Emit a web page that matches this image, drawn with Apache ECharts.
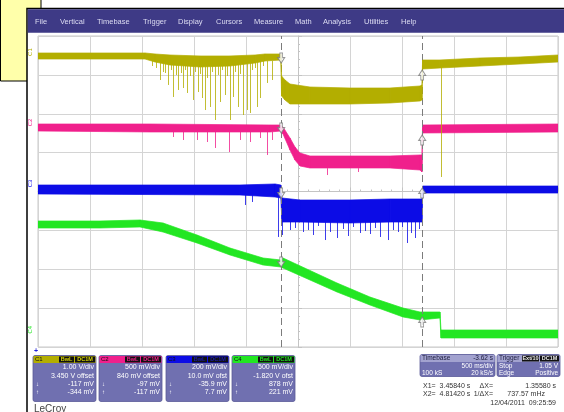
<!DOCTYPE html>
<html>
<head>
<meta charset="utf-8">
<script src="https://cdn.jsdelivr.net/npm/echarts@6/dist/echarts.min.js"></script>
<style>
  html, body { margin: 0; padding: 0; background: #ffffff; }
  #chart { width: 564px; height: 412px; }
</style>
</head>
<body>
<div id="chart"></div>
<script>
// Scope capture: 500 ms/div, trigger delay -3.62 s, so the screen centre sits at t = 3.62 s.
// Vertical values are in screen divisions (8 divisions, centre = 0).
const SCREEN_CENTER = 3.62;

const menuItems = ['File', 'Vertical', 'Timebase', 'Trigger', 'Display', 'Cursors', 'Measure', 'Math', 'Analysis', 'Utilities', 'Help'];

// Channel set-up readouts
const channelNames   = ['C1', 'C2', 'C3', 'C4'];
const channelScale   = ['1.00 V/div', '500 mV/div', '200 mV/div', '500 mV/div'];
const channelOffset  = ['3.450 V offset', '840 mV offset', '10.0 mV ofst', '-1.820 V ofst'];
const channelAtX1    = ['-117 mV', '-97 mV', '-35.9 mV', '878 mV'];
const channelAtX2    = ['-344 mV', '-117 mV', '7.7 mV', '221 mV'];

// Cursor times (s)
const cursorTimes = [3.45840, 4.81420];

// C1 trace envelope: time (s), upper and lower edge of the noise band (div)
const c1Time = [1.120, 2.149, 2.245, 2.389, 2.678, 2.966, 3.207, 3.303, 3.455, 3.462, 3.495, 3.543, 3.735, 4.120, 4.505, 4.793, 4.812, 4.818, 4.985, 5.370, 5.755, 6.120];
const c1High = [3.563, 3.563, 3.537, 3.511, 3.486, 3.486, 3.511, 3.537, 3.537, 2.971, 2.868, 2.765, 2.688, 2.662, 2.662, 2.714, 2.740, 3.383, 3.383, 3.434, 3.460, 3.511];
const c1Low  = [3.408, 3.408, 3.331, 3.254, 3.203, 3.228, 3.305, 3.357, 3.383, 2.457, 2.354, 2.251, 2.251, 2.251, 2.277, 2.328, 2.354, 3.151, 3.177, 3.228, 3.280, 3.331];
// C1 glitches: time (s), start level, end level (div)
const c1SpikeTime = [2.293, 2.341, 2.370, 2.418, 2.466, 2.514, 2.553, 2.610, 2.658, 2.697, 2.726, 2.774, 2.822, 2.870, 2.918, 2.966, 2.995, 3.043, 3.091, 3.130, 3.158, 3.226, 3.255, 3.322, 3.370,
                     2.216, 2.255, 2.322, 2.399, 2.447, 2.495, 2.534, 2.582, 2.630, 2.678, 2.745, 2.793, 2.851, 2.889, 2.937, 3.014, 3.062, 3.178, 3.207, 3.284,
                     4.995];
const c1SpikeFrom = [3.36, 3.36, 3.36, 3.36, 3.36, 3.36, 3.36, 3.36, 3.36, 3.36, 3.36, 3.36, 3.36, 3.36, 3.36, 3.36, 3.36, 3.36, 3.36, 3.36, 3.36, 3.36, 3.36, 3.36, 3.36,
                     3.36, 3.36, 3.36, 3.36, 3.36, 3.36, 3.36, 3.36, 3.36, 3.36, 3.36, 3.36, 3.36, 3.36, 3.36, 3.36, 3.36, 3.36, 3.36, 3.36,
                     3.23];
const c1SpikeTo   = [2.868, 3.048, 2.740, 2.431, 2.611, 2.662, 2.534, 2.354, 2.559, 2.405, 2.096, 2.174, 1.839, 2.302, 2.482, 1.839, 2.431, 2.174, 1.968, 2.096, 2.019, 2.174, 2.405, 2.791, 2.868,
                     3.228, 3.177, 3.074, 3.125, 2.997, 3.048, 3.125, 2.971, 3.074, 3.023, 2.920, 3.074, 2.997, 3.125, 2.971, 3.074, 3.023, 3.125, 3.177, 3.228,
                     0.373];

// C2 trace envelope
const c2Time = [1.120, 2.197, 3.351, 3.455, 3.476, 3.543, 3.591, 3.639, 3.735, 4.120, 4.505, 4.793, 4.812, 4.818, 6.120];
const c2High = [1.736, 1.736, 1.711, 1.711, 1.659, 1.376, 1.145, 0.990, 0.913, 0.913, 0.913, 0.939, 0.939, 1.711, 1.736];
const c2Low  = [1.556, 1.531, 1.531, 1.556, 1.479, 1.068, 0.810, 0.656, 0.605, 0.605, 0.605, 0.553, 0.502, 1.505, 1.531];
const c2SpikeTime = [2.418, 2.514, 2.649, 2.745, 2.822, 2.957, 3.062, 3.158, 3.255, 3.322, 3.370, 3.899, 4.197];
const c2SpikeFrom = [1.54, 1.54, 1.54, 1.54, 1.54, 1.54, 1.54, 1.54, 1.54, 1.54, 1.54, 0.60, 0.60];
const c2SpikeTo   = [1.402, 1.325, 1.325, 1.273, 1.119, 1.016, 1.325, 1.273, 1.376, 0.939, 1.325, 0.424, 0.502];

// C3 trace envelope
const c3Time = [1.120, 3.062, 3.399, 3.455, 3.466, 3.639, 4.120, 4.505, 4.812, 4.818, 6.120];
const c3High = [0.167, 0.167, 0.193, 0.167, -0.167, -0.219, -0.219, -0.193, -0.193, 0.141, 0.141];
const c3Low  = [-0.064, -0.090, -0.141, -0.167, -0.785, -0.785, -0.810, -0.785, -0.785, -0.039, -0.039];
const c3SpikeTime = [3.110, 3.178, 3.428, 3.470, 3.543, 3.668, 3.764, 3.880, 3.995, 4.101, 4.216, 4.312, 4.408, 4.485, 4.582, 4.668, 4.745,
                     3.591, 3.716, 3.812, 3.928, 4.053, 4.149, 4.264, 4.360, 4.533, 4.620, 4.706, 4.783];
const c3SpikeFrom = [-0.06, -0.06, -0.10, -0.78, -0.78, -0.78, -0.78, -0.78, -0.78, -0.78, -0.78, -0.78, -0.78, -0.78, -0.78, -0.78, -0.78,
                     -0.78, -0.78, -0.78, -0.78, -0.78, -0.78, -0.78, -0.78, -0.78, -0.78, -0.78, -0.78];
const c3SpikeTo   = [-0.347, -0.270, -1.170, -1.119, -0.990, -1.042, -1.119, -1.248, -1.196, -1.145, -1.068, -1.093, -1.170, -1.248, -1.042, -1.325, -1.196,
                     -0.939, -0.990, -0.887, -1.042, -0.965, -0.913, -1.016, -0.939, -0.990, -0.913, -1.068, -0.965];

// C4 trace envelope
const c4Time = [1.120, 1.716, 2.101, 2.322, 2.649, 2.966, 3.284, 3.455, 3.476, 3.995, 4.312, 4.630, 4.793, 4.985, 4.995, 6.120];
const c4High = [-0.759, -0.759, -0.733, -0.810, -1.119, -1.453, -1.711, -1.762, -1.711, -2.354, -2.714, -2.997, -3.100, -3.100, -3.563, -3.563];
const c4Low  = [-0.939, -0.939, -0.913, -1.042, -1.325, -1.633, -1.891, -1.942, -1.968, -2.585, -2.920, -3.228, -3.305, -3.254, -3.768, -3.768];

// Trace level under each cursor marker (div), C1..C4
const markerAtX1 = [3.434, 1.633, -0.039, -1.814];
const markerAtX2 = [2.997, 1.325, -0.039, -3.357];

// Channel offset marker positions at the left edge (div)
const channelMarkerLevel = [3.59, 1.78, 0.21, -3.55];

const COLORS = ['#b3ae00', '#f0208c', '#0c0ce6', '#22e622'];
const TAG_TEXT = ['#d8d400', '#f0208c', '#1a1ab0', '#22e622'];
const FONT = '"Liberation Sans", Arial, sans-serif';

const traces = [
  { time: c1Time, high: c1High, low: c1Low, st: c1SpikeTime, sf: c1SpikeFrom, se: c1SpikeTo },
  { time: c2Time, high: c2High, low: c2Low, st: c2SpikeTime, sf: c2SpikeFrom, se: c2SpikeTo },
  { time: c3Time, high: c3High, low: c3Low, st: c3SpikeTime, sf: c3SpikeFrom, se: c3SpikeTo },
  { time: c4Time, high: c4High, low: c4Low, st: [], sf: [], se: [] }
];

const rel = t => t - SCREEN_CENTER;

// A noise band drawn as consecutive quads between the upper and lower envelope.
function bandSeries(idx, z) {
  const tr = traces[idx];
  const color = COLORS[idx];
  const data = [];
  for (let i = 0; i < tr.time.length - 1; i++) {
    data.push([rel(tr.time[i]), tr.low[i], tr.high[i], rel(tr.time[i + 1]), tr.low[i + 1], tr.high[i + 1]]);
  }
  return {
    type: 'custom', z, silent: true, clip: true,
    data,
    encode: { x: [0, 3], y: [1, 2, 4, 5] },
    renderItem: (params, api) => {
      const a = api.coord([api.value(0), api.value(2)]);
      const b = api.coord([api.value(3), api.value(5)]);
      const c = api.coord([api.value(3), api.value(4)]);
      const d = api.coord([api.value(0), api.value(1)]);
      return {
        type: 'polygon',
        shape: { points: [a, b, c, d] },
        style: { fill: color, stroke: color, lineWidth: 0.7 }
      };
    }
  };
}

// Single-sample glitches drawn as thin vertical strokes
function spikeSeries(idx, z) {
  const tr = traces[idx];
  const color = COLORS[idx];
  return {
    type: 'custom', z, silent: true,
    data: tr.st.map((t, i) => [rel(t), tr.sf[i], tr.se[i]]),
    encode: { x: 0, y: [1, 2] },
    renderItem: (params, api) => {
      const a = api.coord([api.value(0), api.value(1)]);
      const b = api.coord([api.value(0), api.value(2)]);
      return {
        type: 'line',
        shape: { x1: Math.round(a[0]) + 0.5, y1: a[1], x2: Math.round(a[0]) + 0.5, y2: b[1] },
        style: { stroke: color, lineWidth: 1, opacity: 0.8 }
      };
    }
  };
}

const ARROW_DOWN = 'path://M3,0 L7,0 L7,5 L10,5 L5,11 L0,5 L3,5 Z';
const ARROW_UP = 'path://M5,0 L10,6 L7,6 L7,11 L3,11 L3,6 L0,6 Z';

const series = [];
[3, 2, 1, 0].forEach((idx, k) => {
  series.push(bandSeries(idx, 2 + k));
  if (traces[idx].st.length) series.push(spikeSeries(idx, 2 + k));
});

series.push({
  type: 'scatter', z: 10, silent: true,
  symbol: ARROW_DOWN, symbolSize: [7, 10],
  data: markerAtX1.map(v => [rel(cursorTimes[0]), v]),
  itemStyle: { color: '#ffffff', borderColor: '#7a7a7a', borderWidth: 1 },
  markLine: {
    silent: true, symbol: 'none', label: { show: false },
    lineStyle: { color: '#7c7c7c', type: [7, 4], width: 1 },
    data: cursorTimes.map(t => ({ xAxis: rel(t) }))
  }
});
series.push({
  type: 'scatter', z: 10, silent: true,
  symbol: ARROW_UP, symbolSize: [7, 10],
  data: markerAtX2.map(v => [rel(cursorTimes[1]), v]),
  itemStyle: { color: '#ffffff', borderColor: '#7a7a7a', borderWidth: 1 }
});

// ---- screen furniture (frame, menu bar, readout panels) ----
const graphic = [];
graphic.push({ type: 'rect', z: -20, shape: { x: 0.5, y: -1, width: 40.5, height: 82 }, style: { fill: '#ffffaa', stroke: '#000', lineWidth: 1 } });
graphic.push({ type: 'rect', z: -19, shape: { x: 27, y: 8.5, width: 540, height: 406 }, style: { fill: '#ffffff', stroke: '#000', lineWidth: 1.5 } });
graphic.push({ type: 'rect', z: -18, shape: { x: 27.8, y: 9.3, width: 537, height: 23.5 }, style: { fill: '#3e3a86' } });

const menuX = [35, 60, 97, 143, 178, 216, 254, 295, 323, 364, 401];
menuItems.forEach((m, i) => {
  graphic.push({ type: 'text', z: 20, x: menuX[i], y: 22, style: { text: m, fill: '#dcdcf2', font: '7.5px ' + FONT, textVerticalAlign: 'middle' } });
});

// channel offset markers at the left of the grid
channelNames.forEach((n, i) => {
  graphic.push({
    type: 'text', z: 20, x: 30, y: 191.5 - channelMarkerLevel[i] * 38.875 + 4, rotation: Math.PI / 2,
    style: { text: n, fill: COLORS[i], font: '6px ' + FONT, textVerticalAlign: 'middle' }
  });
});
graphic.push({ type: 'text', z: 20, x: 34, y: 351, style: { text: '+', fill: '#2222dd', font: 'bold 7px ' + FONT, textVerticalAlign: 'middle' } });

// channel descriptor boxes
const boxX = [33, 99, 166, 232];
const BOX_W = 63, BOX_Y = 355.5, BOX_H = 46;
channelNames.forEach((n, i) => {
  const x = boxX[i];
  graphic.push({ type: 'rect', z: 5, shape: { x, y: BOX_Y, width: BOX_W, height: BOX_H, r: 2 }, style: { fill: '#7070b0', stroke: '#5a5a98', lineWidth: 0.8 } });
  graphic.push({ type: 'rect', z: 6, shape: { x: x + 0.5, y: BOX_Y + 0.5, width: BOX_W - 1, height: 7 }, style: { fill: COLORS[i] } });
  graphic.push({ type: 'rect', z: 7, shape: { x: x + 26, y: BOX_Y + 1, width: 15, height: 6 }, style: { fill: '#111' } });
  graphic.push({ type: 'rect', z: 7, shape: { x: x + 42, y: BOX_Y + 1, width: 20, height: 6 }, style: { fill: '#111' } });
  graphic.push({ type: 'text', z: 8, x: x + 2, y: BOX_Y + 4, style: { text: n, fill: '#111', font: '6px ' + FONT, textVerticalAlign: 'middle' } });
  graphic.push({ type: 'text', z: 8, x: x + 33.5, y: BOX_Y + 4, style: { text: 'BwL', fill: TAG_TEXT[i], font: 'bold 5.5px ' + FONT, textAlign: 'center', textVerticalAlign: 'middle' } });
  graphic.push({ type: 'text', z: 8, x: x + 52, y: BOX_Y + 4, style: { text: 'DC1M', fill: TAG_TEXT[i], font: 'bold 5.5px ' + FONT, textAlign: 'center', textVerticalAlign: 'middle' } });
  const rows = [channelScale[i], channelOffset[i], channelAtX1[i], channelAtX2[i]];
  rows.forEach((r, k) => {
    graphic.push({ type: 'text', z: 8, x: x + BOX_W - 2, y: BOX_Y + 12 + k * 8.3, style: { text: r, fill: '#ffffff', font: '7px ' + FONT, textAlign: 'right', textVerticalAlign: 'middle' } });
  });
  graphic.push({ type: 'text', z: 8, x: x + 3, y: BOX_Y + 12 + 2 * 8.3, style: { text: '\u2193', fill: '#ffffff', font: '6px ' + FONT, textVerticalAlign: 'middle' } });
  graphic.push({ type: 'text', z: 8, x: x + 3, y: BOX_Y + 12 + 3 * 8.3, style: { text: '\u2191', fill: '#ffffff', font: '6px ' + FONT, textVerticalAlign: 'middle' } });
});

// timebase and trigger boxes
function infoBox(x, w, title, titleRight, rowsL, rowsR, tags) {
  graphic.push({ type: 'rect', z: 5, shape: { x, y: 354.5, width: w, height: 22, r: 2 }, style: { fill: '#7070b0', stroke: '#5a5a98', lineWidth: 0.8 } });
  graphic.push({ type: 'rect', z: 6, shape: { x: x + 0.5, y: 355, width: w - 1, height: 7 }, style: { fill: '#a2a2cf' } });
  graphic.push({ type: 'text', z: 8, x: x + 2, y: 358.5, style: { text: title, fill: '#1c1c3c', font: '6.5px ' + FONT, textVerticalAlign: 'middle' } });
  if (titleRight) graphic.push({ type: 'text', z: 8, x: x + w - 2, y: 358.5, style: { text: titleRight, fill: '#1c1c3c', font: '6.5px ' + FONT, textAlign: 'right', textVerticalAlign: 'middle' } });
  (tags || []).forEach(tg => {
    graphic.push({ type: 'rect', z: 7, shape: { x: tg.x, y: 355.5, width: tg.w, height: 6 }, style: { fill: '#111' } });
    graphic.push({ type: 'text', z: 8, x: tg.x + tg.w / 2, y: 358.5, style: { text: tg.t, fill: '#e8e8e8', font: 'bold 5.5px ' + FONT, textAlign: 'center', textVerticalAlign: 'middle' } });
  });
  rowsL.forEach((r, k) => {
    if (r) graphic.push({ type: 'text', z: 8, x: x + 2, y: 366.5 + k * 6.5, style: { text: r, fill: '#ffffff', font: '6.5px ' + FONT, textVerticalAlign: 'middle' } });
  });
  rowsR.forEach((r, k) => {
    if (r) graphic.push({ type: 'text', z: 8, x: x + w - 2, y: 366.5 + k * 6.5, style: { text: r, fill: '#ffffff', font: '6.5px ' + FONT, textAlign: 'right', textVerticalAlign: 'middle' } });
  });
}
infoBox(420, 75, 'Timebase', '-3.62 s', ['', '100 kS'], ['500 ms/div', '20 kS/s']);
infoBox(497, 63, 'Trigger', '', ['Stop', 'Edge'], ['1.05 V', 'Positive'], [{ x: 522, w: 17, t: 'Ext/10' }, { x: 540, w: 19, t: 'DC1M' }]);

// cursor readout
const dX = cursorTimes[1] - cursorTimes[0];
const readL = ['X1=  ' + cursorTimes[0].toFixed(5) + ' s', 'X2=  ' + cursorTimes[1].toFixed(5) + ' s'];
const readM = ['\u0394X=', '1/\u0394X='];
const readR = [dX.toFixed(5) + ' s', (1000 / dX).toFixed(2) + ' mHz'];
readL.forEach((s, k) => {
  graphic.push({ type: 'text', z: 8, x: 423, y: 386 + k * 8.5, style: { text: s, fill: '#333', font: '7px ' + FONT, textVerticalAlign: 'middle' } });
  graphic.push({ type: 'text', z: 8, x: 493, y: 386 + k * 8.5, style: { text: readM[k], fill: '#333', font: '7px ' + FONT, textAlign: 'right', textVerticalAlign: 'middle' } });
  graphic.push({ type: 'text', z: 8, x: k === 0 ? 556 : 545, y: 386 + k * 8.5, style: { text: readR[k], fill: '#333', font: '7px ' + FONT, textAlign: 'right', textVerticalAlign: 'middle' } });
});
graphic.push({ type: 'text', z: 8, x: 556, y: 403, style: { text: '12/04/2011  09:25:59', fill: '#333', font: '7px ' + FONT, textAlign: 'right', textVerticalAlign: 'middle' } });
graphic.push({ type: 'text', z: 8, x: 34, y: 409, style: { text: 'LeCroy', fill: '#444', font: '10px ' + FONT, textVerticalAlign: 'middle' } });

const chart = echarts.init(document.getElementById('chart'), null, { renderer: 'canvas' });
chart.setOption({
  animation: false,
  backgroundColor: '#ffffff',
  grid: { left: 38, top: 36, width: 520, height: 311, show: true, backgroundColor: '#ffffff', borderColor: '#c8c8c8', borderWidth: 1 },
  xAxis: {
    type: 'value', min: -2.5, max: 2.5, interval: 0.5,
    axisLabel: { show: false },
    axisLine: { show: true, onZero: true, lineStyle: { color: '#c4c4c4', width: 1 } },
    axisTick: { show: true, inside: true, length: 4, lineStyle: { color: '#c4c4c4' } },
    minorTick: { show: true, splitNumber: 5, length: 2, lineStyle: { color: '#c4c4c4' } },
    splitLine: { show: true, lineStyle: { color: '#d4d4d4', width: 1 } }
  },
  yAxis: {
    type: 'value', min: -4, max: 4, interval: 1,
    axisLabel: { show: false },
    axisLine: { show: true, onZero: true, lineStyle: { color: '#c4c4c4', width: 1 } },
    axisTick: { show: true, inside: true, length: 4, lineStyle: { color: '#c4c4c4' } },
    minorTick: { show: true, splitNumber: 5, length: 2, lineStyle: { color: '#c4c4c4' } },
    splitLine: { show: true, lineStyle: { color: '#d4d4d4', width: 1 } }
  },
  graphic,
  series
});
</script>
</body>
</html>
